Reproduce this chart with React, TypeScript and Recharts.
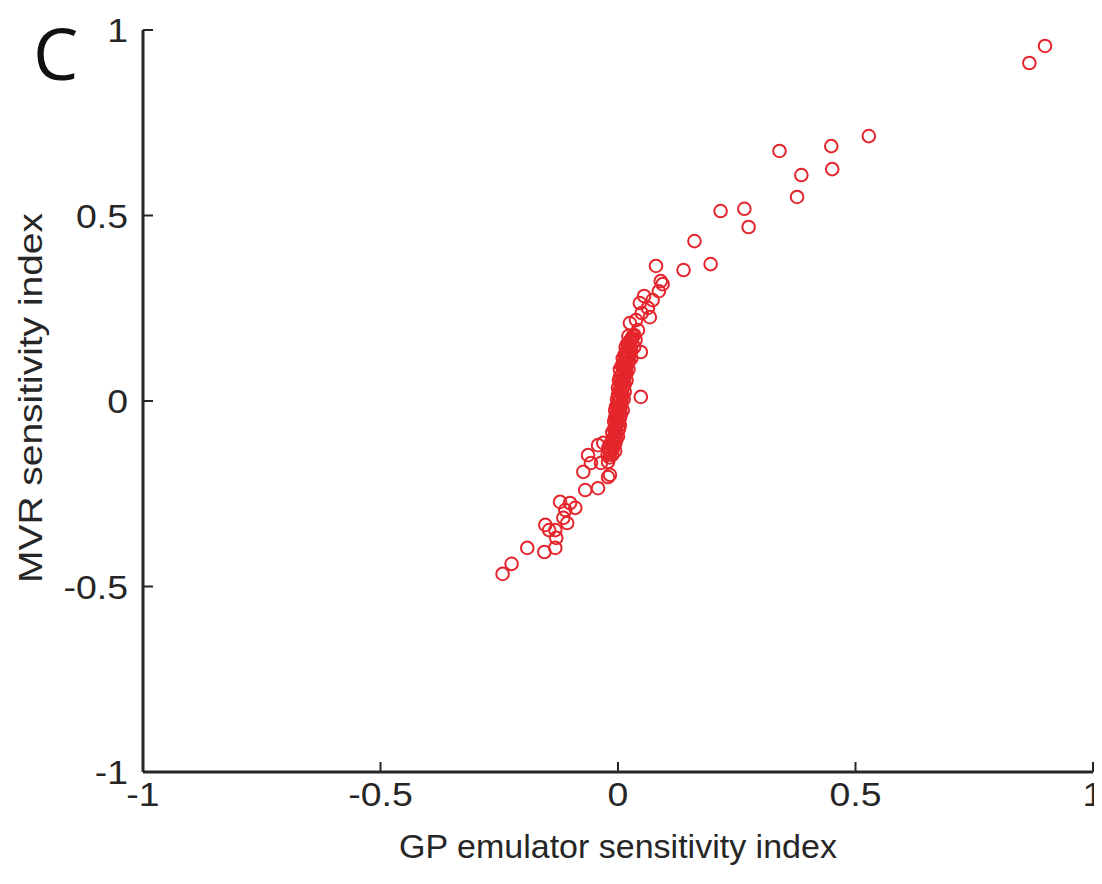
import { Scatter, ScatterChart, XAxis, YAxis } from "recharts";

// GP emulator index vs MVR index
const upperTail: [number, number][] = [
  [0.899, 0.957], [0.866, 0.911], [0.528, 0.714], [0.449, 0.687], [0.34, 0.674],
  [0.451, 0.625], [0.386, 0.609], [0.377, 0.55], [0.216, 0.512], [0.266, 0.518],
  [0.275, 0.469], [0.161, 0.431], [0.08, 0.364], [0.138, 0.353], [0.195, 0.369],
  [0.09, 0.323], [0.094, 0.315], [0.086, 0.296],
];

const upperCluster: [number, number][] = [
  [0.055, 0.283], [0.073, 0.272], [0.046, 0.264], [0.063, 0.251], [0.05, 0.237],
  [0.067, 0.226], [0.038, 0.218], [0.025, 0.21], [0.042, 0.191], [0.034, 0.178],
  [0.048, 0.132], [0.048, 0.011],
];

const coreBand: [number, number][] = [
  [0.032, 0.175], [0.022, 0.175], [0.027, 0.165], [0.037, 0.165], [0.02, 0.155],
  [0.03, 0.155], [0.024, 0.145], [0.034, 0.145], [0.016, 0.145], [0.018, 0.135],
  [0.028, 0.135], [0.014, 0.125], [0.024, 0.125], [0.02, 0.115], [0.01, 0.115],
  [0.028, 0.115], [0.012, 0.105], [0.022, 0.105], [0.008, 0.095], [0.018, 0.095],
  [0.014, 0.085], [0.004, 0.085], [0.022, 0.085], [0.01, 0.075], [0.018, 0.075],
  [0.004, 0.065], [0.014, 0.065], [0.01, 0.055], [0.018, 0.055], [0.002, 0.055],
  [0.006, 0.045], [0.014, 0.045], [0.0, 0.035], [0.01, 0.035], [0.006, 0.025],
  [0.014, 0.025], [0.0, 0.015], [0.01, 0.015], [0.004, 0.005], [0.012, 0.005],
  [-0.002, 0.005], [0.0, -0.005], [0.008, -0.005], [-0.004, -0.015], [0.006, -0.015],
  [0.002, -0.025], [0.01, -0.025], [-0.006, -0.025], [-0.002, -0.035], [0.006, -0.035],
  [-0.006, -0.045], [0.004, -0.045], [0.0, -0.055], [-0.008, -0.055], [-0.004, -0.065],
  [0.004, -0.065], [-0.008, -0.075], [0.002, -0.075], [-0.004, -0.085], [-0.012, -0.085],
  [-0.008, -0.095], [0.0, -0.095], [-0.012, -0.105], [-0.004, -0.105], [-0.016, -0.115],
  [-0.006, -0.115], [-0.012, -0.125], [-0.02, -0.125], [-0.016, -0.135], [-0.006, -0.135],
  [-0.022, -0.145], [-0.012, -0.145],
  // second pass, offset rows
  [0.029, 0.17], [0.025, 0.16], [0.021, 0.15], [0.026, 0.14], [0.02, 0.13],
  [0.017, 0.12], [0.023, 0.11], [0.015, 0.1], [0.011, 0.09], [0.016, 0.08],
  [0.008, 0.07], [0.012, 0.06], [0.007, 0.05], [0.011, 0.04], [0.004, 0.03],
  [0.008, 0.02], [0.005, 0.01], [0.003, 0.0], [0.004, -0.01], [0.0, -0.02],
  [0.003, -0.03], [-0.001, -0.04], [-0.003, -0.05], [0.0, -0.06], [-0.004, -0.07],
  [-0.006, -0.08], [-0.004, -0.09], [-0.008, -0.1], [-0.01, -0.11], [-0.014, -0.12],
  [-0.011, -0.13], [-0.017, -0.14], [-0.018, -0.152],
];

const lowerTail: [number, number][] = [
  [-0.243, -0.466], [-0.224, -0.439], [-0.191, -0.396], [-0.155, -0.407], [-0.132, -0.396],
  [-0.153, -0.334], [-0.145, -0.348], [-0.132, -0.348], [-0.13, -0.369], [-0.122, -0.272],
  [-0.111, -0.294], [-0.101, -0.275], [-0.09, -0.288], [-0.107, -0.329], [-0.115, -0.315],
  [-0.069, -0.24], [-0.042, -0.235], [-0.073, -0.191], [-0.063, -0.146], [-0.042, -0.119],
  [-0.021, -0.205], [-0.057, -0.167], [-0.036, -0.167], [-0.031, -0.113], [-0.021, -0.164],
  [-0.017, -0.199],
];

const axisTicks = [-1, -0.5, 0, 0.5, 1];

const points = [...upperTail, ...upperCluster, ...coreBand, ...lowerTail].map(([gp, mvr]) => ({
  gp,
  mvr,
}));

const RED = "#e4262c";
const INK = "#262626";
const FONT = '"Liberation Sans", Arial, Helvetica, sans-serif';

function XTick({ x, y, payload }: any) {
  return (
    <g>
      <line x1={x} x2={x} y1={y} y2={y - 10} stroke={INK} strokeWidth={2} />
      <text
        transform={`translate(${x},${y + 34}) scale(1.1,1)`}
        textAnchor="middle"
        fontSize={34}
        fill={INK}
        fontFamily={FONT}
      >
        {String(payload.value)}
      </text>
    </g>
  );
}

function YTick({ x, y, payload }: any) {
  return (
    <g>
      <line x1={x} x2={x + 10} y1={y} y2={y} stroke={INK} strokeWidth={2} />
      <text
        transform={`translate(${x - 15},${y}) scale(1.1,1)`}
        dy="0.36em"
        textAnchor="end"
        fontSize={34}
        fill={INK}
        fontFamily={FONT}
      >
        {String(payload.value)}
      </text>
    </g>
  );
}

function XLabel({ viewBox }: any) {
  const { x, y, width } = viewBox;
  return (
    <text x={x + width / 2} y={y + 86} textAnchor="middle" fontSize={34} fill={INK} fontFamily={FONT}>
      GP emulator sensitivity index
    </text>
  );
}

function YLabel({ viewBox }: any) {
  const { x, y, height } = viewBox;
  return (
    <text
      transform={`translate(${x - 33},${y + height / 2 - 3}) rotate(-90) scale(1.18,1)`}
      dy="0.36em"
      textAnchor="middle"
      fontSize={33}
      fill={INK}
      fontFamily={FONT}
    >
      MVR sensitivity index
    </text>
  );
}

function Ring({ cx, cy }: any) {
  return <circle cx={cx} cy={cy} r={6.3} fill="none" stroke={RED} strokeWidth={2} />;
}

export default function App() {
  return (
    <div style={{ position: "relative", width: 1094, height: 876 }}>
      <ScatterChart width={1094} height={876} margin={{ top: 22, right: 9, left: 55, bottom: 52 }}>
        <XAxis
          type="number"
          dataKey="gp"
          domain={[-1, 1]}
          ticks={axisTicks}
          interval={0}
          height={60}
          tickSize={0}
          tickMargin={0}
          tickLine={false}
          tick={<XTick />}
          axisLine={{ stroke: INK, strokeWidth: 3 }}
          label={<XLabel />}
        />
        <YAxis
          type="number"
          dataKey="mvr"
          domain={[-1, 1]}
          ticks={axisTicks}
          interval={0}
          width={80}
          tickSize={0}
          tickMargin={0}
          tickLine={false}
          tick={<YTick />}
          axisLine={{ stroke: INK, strokeWidth: 3 }}
          label={<YLabel />}
        />
        <Scatter data={points} shape={<Ring />} isAnimationActive={false} />
      </ScatterChart>
      <svg width={200} height={120} style={{ position: "absolute", left: 0, top: 0, overflow: "visible" }}>
        <text x={25} y={72} fontSize={72} fill="#111" fontFamily='"Open Sans", "DejaVu Sans", sans-serif'>
          C
        </text>
      </svg>
    </div>
  );
}
